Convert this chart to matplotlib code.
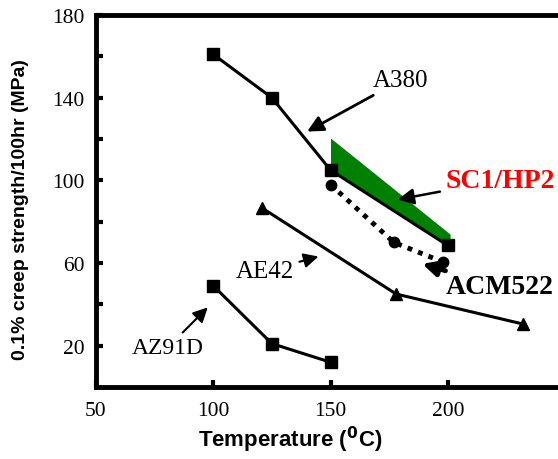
import matplotlib.pyplot as plt

# Datos (temperatura en C, resistencia en MPa)
a380_t = [100, 125, 150, 200]
a380_s = [161, 140, 105, 68.5]

acm522_t = [150, 177, 198]
acm522_s = [98, 70, 60.5]

ae42_t = [121, 178, 232]
ae42_s = [86.5, 45, 30.5]

az91d_t = [100, 125, 150]
az91d_s = [49, 21, 12]

# Banda SC1/HP2
banda_t = [150, 201]
banda_sup = [120.5, 74]
banda_inf = [105, 68.5]

serif = ['Liberation Serif', 'DejaVu Serif']
sans = ['Liberation Sans', 'DejaVu Sans']

fig = plt.figure(figsize=(5.58, 4.6), dpi=100)
ax = fig.add_axes([0.172, 0.1565, 0.828, 0.8085])

ax.fill_between(banda_t, banda_inf, banda_sup, color='#008000', lw=0, zorder=1)

ax.plot(a380_t, a380_s, color='black', lw=2.2, marker='s', ms=8, zorder=3)
ax.plot(acm522_t, acm522_s, color='black', lw=3.5, ls=(0, (1, 1.3)),
        marker='o', ms=7.5, zorder=3)
ax.plot(ae42_t, ae42_s, color='black', lw=2.2, marker='^', ms=8, zorder=3)
ax.plot(az91d_t, az91d_s, color='black', lw=2.2, marker='s', ms=8, zorder=3)

flecha = dict(arrowstyle='-|>', color='black', lw=2, mutation_scale=24)

ax.annotate('A380', xy=(139, 123), xytext=(180, 148.5), fontsize=18,
            family=serif, ha='center', va='center', arrowprops=flecha)
ax.annotate('SC1/HP2', xy=(177.5, 90.5), xytext=(199, 100), fontsize=20,
            family=serif, fontweight='bold', color='red', ha='left', va='center',
            arrowprops=dict(arrowstyle='-|>', color='black', lw=1.8, mutation_scale=24))
ax.annotate('ACM522', xy=(188, 60), xytext=(199, 48.5), fontsize=20,
            family=serif, fontweight='bold', ha='left', va='center',
            arrowprops=dict(arrowstyle='-|>', color='black', lw=3.5, mutation_scale=22))
ax.annotate('AE42', xy=(146, 63.5), xytext=(122, 56), fontsize=18,
            family=serif, ha='center', va='center',
            arrowprops=dict(arrowstyle='-|>', color='black', lw=1.5, mutation_scale=22))
ax.annotate('AZ91D', xy=(98.5, 39.5), xytext=(80.5, 19), fontsize=17,
            family=serif, ha='center', va='center',
            arrowprops=dict(arrowstyle='-|>', color='black', lw=1.5, mutation_scale=22))

ax.set_xlim(50, 247)
ax.set_ylim(0, 180)
ax.set_xticks([50, 100, 150, 200])
ax.set_yticks([20, 60, 100, 140, 180])
ax.set_yticks([40, 80, 120, 160], minor=True)

ax.spines['right'].set_visible(False)
for lado in ['left', 'top', 'bottom']:
    ax.spines[lado].set_linewidth(3.5)

ax.tick_params(which='both', direction='in', length=5, width=3, labelsize=15.5)
ax.tick_params(axis='y', pad=8)
ax.tick_params(axis='x', pad=10)
for etiqueta in ax.get_xticklabels() + ax.get_yticklabels():
    etiqueta.set_family(serif)

ax.set_ylabel('0.1% creep strength/100hr (MPa)', fontsize=14,
              fontweight='bold', family=sans)
ax.yaxis.set_label_coords(-0.145, 0.48)
ax.set_xlabel('Temperature ($\\mathbf{^0}$C)', fontsize=16,
              fontweight='bold', family=sans)
ax.xaxis.set_label_coords(0.42, -0.1)

fig.savefig('out.png', dpi=100)
